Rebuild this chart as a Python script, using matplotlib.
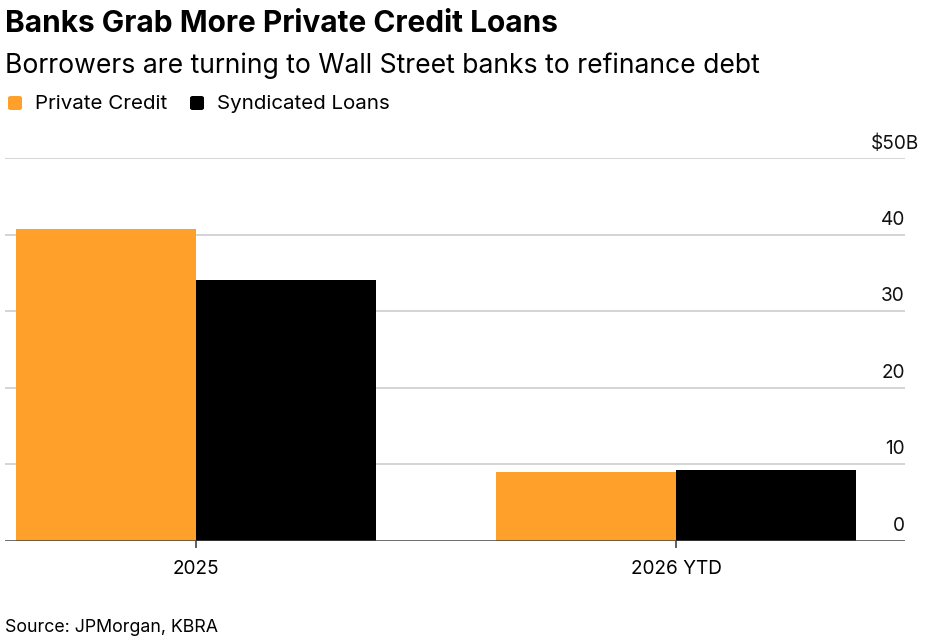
import numpy as np
import matplotlib
matplotlib.use('Agg')
import matplotlib.pyplot as plt
from matplotlib.patches import FancyBboxPatch
from matplotlib.transforms import blended_transform_factory

# Chart data
categories = ['2025', '2026 YTD']
private_credit = [40.7, 8.9]
syndicated_loans = [34.1, 9.2]
series_names = ['Private Credit', 'Syndicated Loans']
y_ticks = [0, 10, 20, 30, 40, 50]
y_tick_labels = ['0', '10', '20', '30', '40', '$50B']

ORANGE = '#FFA02A'
BLACK = '#000000'
W, H = 941, 639

plt.rcParams['font.family'] = ['Inter', 'DejaVu Sans']

fig = plt.figure(figsize=(W / 100, H / 100), dpi=100)

def fx(px):
    return px / W

def fy(py):
    return 1 - py / H

# axes box: x 5..905 px, y 158..540 px
ax = fig.add_axes([fx(5), fy(540.5), fx(905) - fx(5), fy(158.3) - fy(540.5)])

x = np.arange(len(categories))
width = 0.375
ax.bar(x - width / 2, private_credit, width, color=ORANGE, zorder=3)
ax.bar(x + width / 2, syndicated_loans, width, color=BLACK, zorder=3)

ax.set_xlim(-0.398, 1.477)
ax.set_ylim(0, 50)

# gridlines
for v in y_ticks[1:]:
    ax.axhline(v, color='#d4d4d4', lw=1.4, zorder=1)
ax.axhline(0, color='#444444', lw=1.8, zorder=4)

for s in ax.spines.values():
    s.set_visible(False)
ax.set_yticks([])
ax.set_xticks(x)
ax.set_xticklabels(categories, fontsize=13.7)
ax.tick_params(axis='x', length=5, width=1.2, color='#444444', pad=9)

# y tick labels sit above gridlines, right-aligned ($50B hangs past the edge)
trans = blended_transform_factory(ax.transAxes, ax.transData)
for v, lab in zip(y_ticks, y_tick_labels):
    dx = 10 if lab.startswith('$') else 0
    ax.annotate(lab, xy=(1.0, v), xycoords=trans, xytext=(dx, 7),
                textcoords='offset points', ha='right', va='baseline',
                fontsize=13.7, color='#111111')

# titles
fig.text(fx(5), fy(32), 'Banks Grab More Private Credit Loans', fontsize=21.5,
         fontweight='bold', va='baseline', ha='left')
fig.text(fx(5), fy(73), 'Borrowers are turning to Wall Street banks to refinance debt',
         fontsize=19.1, va='baseline', ha='left')

# legend
for px0, color, name in [(8, ORANGE, series_names[0]), (190, BLACK, series_names[1])]:
    box = FancyBboxPatch((fx(px0), fy(110)), fx(14), fy(96) - fy(110),
                         boxstyle='round,pad=0,rounding_size=0.003',
                         transform=fig.transFigure, color=color, lw=0)
    fig.patches.append(box)
    fig.text(fx(px0 + 27), fy(109), name, fontsize=14.8, va='baseline', ha='left')

fig.text(fx(5), fy(632), 'Source: JPMorgan, KBRA', fontsize=12.8, va='baseline', ha='left')

fig.savefig('out.png', dpi=100)
